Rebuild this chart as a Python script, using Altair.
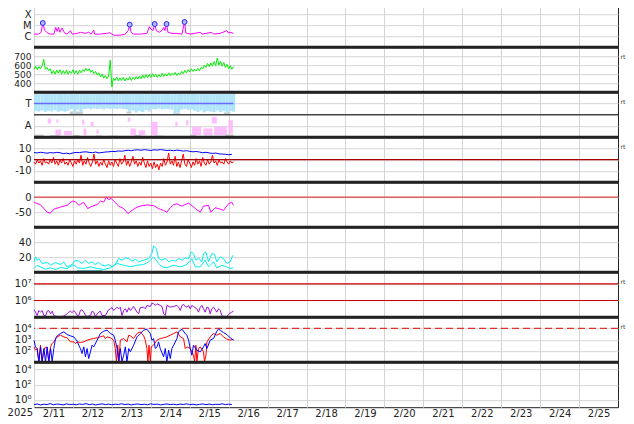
import altair as alt
import pandas as pd

# ---------------- data (hours since 2025-02-11 00:00) ----------------
# Panel 1: X-ray flux (units of 1e-6 W/m^2)
XRAY_H = [0, 3, 4.4, 5.4, 6.5, 8.1, 10.2, 12.2, 13.4, 14.3, 15.1, 15.9, 17.3, 18.8, 20.4, 22.5, 23.5, 26.6, 28.6, 31.7,
          33.7, 35.2, 36.8, 37.4, 40.9, 44.6, 46.7, 49.1, 53.2, 56.3, 58.0, 59.0, 59.8, 61.4, 65.5, 69.6, 71.1, 72.1, 73.3, 74.4,
          75.4, 77.4, 79.1, 79.9, 80.7, 81.7, 82.6, 85.0, 88.1, 91.2, 92.8, 93.6, 96.3, 102.5, 103.5, 109.6, 110.7, 114.8, 118.9, 119.9,
          120.9, 123.0]
XRAY_V = [1.5, 1.5, 2.2, 15.6, 3.5, 2.0, 1.5, 1.5, 6.2, 2.7, 6.2, 2.2, 5.4, 1.9, 1.5, 3.1, 1.5, 1.75, 2.2, 1.75,
          2.2, 1.5, 3.5, 1.5, 1.5, 1.75, 2.0, 1.2, 1.2, 1.5, 3.1, 11, 2.2, 1.5, 1.5, 1.75, 7.2, 4.4, 3.1, 12.6,
          3.1, 2.2, 3.5, 6.2, 3.1, 12.6, 2.2, 1.75, 1.75, 1.5, 19.2, 1.9, 1.5, 2.2, 1.5, 2.2, 1.5, 1.75, 3.1, 1.9,
          2.2, 1.75]
FLARE_H = [5.4, 59.0, 74.4, 81.7, 92.8]
FLARE_V = [15.6, 11, 12.6, 12.6, 19.2]

# Panel 2: solar wind speed, hourly
SPEED = [555, 590, 550, 585, 560, 595, 665, 555, 575, 540, 560, 505, 540, 500, 545, 510, 550, 500, 540, 505,
         545, 500, 535, 510, 550, 505, 540, 500, 545, 515, 550, 530, 565, 535, 560, 520, 545, 505, 530, 490,
         515, 470, 500, 455, 485, 450, 480, 655, 360, 455, 430, 470, 425, 460, 430, 465, 425, 460, 435, 470,
         430, 465, 440, 475, 445, 480, 450, 490, 455, 495, 460, 500, 465, 505, 470, 500, 465, 495, 470, 510,
         475, 505, 480, 515, 485, 510, 490, 520, 485, 515, 495, 530, 505, 545, 515, 550, 525, 560, 530, 555,
         535, 565, 540, 575, 560, 600, 575, 620, 585, 625, 590, 640, 595, 680, 600, 645, 590, 630, 575, 610,
         560, 595, 555, 585]

# Panel 3: sector (T/A), 2-hourly band of toward points
BAND_LOW = [210, 205, 214, 203, 212, 206, 215, 204, 210, 203, 212, 225, 192, 220, 198, 226, 229, 224, 230, 226,
            229, 222, 230, 227, 229, 224, 230, 226, 222, 205, 214, 198, 210, 202, 216, 206, 226, 222, 229, 221,
            227, 224, 220, 190, 196, 221, 226, 219, 224, 212, 203, 214, 198, 210, 205, 200, 214, 202, 208, 196,
            210, 204]
BAND_TOP = 345
SECTOR_LINE_H = [0, 123]
SECTOR_LINE_V = [270, 270]
PINK = [(8.5, 10.6, 109, 149), (13.8, 15.1, 115, 141), (13.2, 16.7, 16, 61), (18.4, 23.5, 16, 51),
        (29.6, 31.0, 100, 141), (30.5, 32.3, 16, 70), (34.8, 36.8, 88, 123), (38.5, 39.9, 29, 61),
        (57.7, 59.4, 123, 157), (59.4, 63.0, 16, 69), (64.5, 68.6, 16, 55), (72.1, 76.2, 16, 123),
        (87.1, 88.5, 88, 123), (93.8, 95.3, 96, 136), (97.3, 103.0, 16, 83), (104.5, 110.0, 16, 70),
        (111.0, 118.9, 16, 83), (109.6, 112.7, 109, 163), (119.9, 122.6, 29, 136)]
GRAY = [(0, 4, 344, 356), (45, 50, 342, 356), (55, 65, 342, 354), (88, 102, 342, 356), (112, 120, 342, 354),
        (22, 30, 185, 205), (57, 60, 190, 205), (86, 90, 180, 192), (117, 121, 185, 198),
        (0, 6, 4, 20), (10, 16, 4, 16), (24, 28, 4, 18), (38, 42, 4, 14), (46, 52, 4, 12), (62, 66, 4, 18),
        (74, 80, 4, 14), (96, 100, 4, 20), (106, 110, 4, 12), (118, 123, 4, 22)]

# Panel 4: Bt (2-hourly) and Bz (hourly)
BT = [6.4, 6.0, 6.6, 6.2, 5.8, 6.3, 6.0, 6.5, 6.2, 5.4, 5.8, 5.2, 6.0, 6.5, 6.3, 6.8, 7.0, 6.5, 6.2, 6.8,
      6.0, 6.4, 6.8, 7.0, 7.4, 7.2, 7.8, 7.5, 8.0, 8.4, 8.0, 8.6, 8.8, 8.4, 8.9, 8.6, 8.2, 8.8, 8.5, 9.0,
      8.6, 8.2, 8.4, 8.0, 8.5, 8.2, 7.6, 8.0, 7.4, 7.0, 7.3, 6.8, 6.2, 6.6, 6.0, 5.6, 5.9, 5.2, 5.0, 4.8,
      4.4, 4.8]
BZ = [-2, -4, 0, -3, -1, -5, 1, -3, -2, -4, 0,
      -3, 2, -4, -1, -5, 0, -3, 1, -4, -2,
      -5, 0, -3, -6, -1, -4, 0, -3, 4, -5,
      -1, -4, 2, -3, -6, -2, 5, -4, -1, -6,
      -2, -5, 0, -4, -7, -1, -5, -2, -6, 0,
      -3, -6, 1, -4, -2, 4, -5, -1, -6, -2,
      3, -4, -1, -6, -2, -5, 2, -3, -7, -1,
      -6, -3, -8, -2, -7, -4, -9, -3, -6, 1,
      -5, -2, 6, -4, -1, -5, 3, -6, -2, -7,
      -1, 5, -4, -6, 0, -3, -7, -2, -5, 1,
      -4, -1, -6, 2, -3, -5, 0, -4, -2, 4,
      -3, -1, -5, 0, -3, -2, -4, 1, -2, -4, -1, -3, -2]

# Panel 5: Dst
DST_H = [0, 4.0, 8.1, 10.2, 12.2, 16.3, 20.4, 23.5, 25.5, 27.6, 30.7, 33.1, 35.8, 38.9, 40.9, 43.0, 44.6, 46.1, 47.5, 50.2,
         52.2, 55.3, 57.9, 60.4, 63.5, 66.6, 69.6, 73.7, 76.8, 79.9, 81.9, 84.0, 86.1, 88.1, 91.2, 93.2, 95.3, 97.3, 100.4, 102.5,
         104.5, 107.6, 109.0, 111.7, 114.8, 116.8, 119.9, 121.9, 123.0]
DST_V = [-17, -25, -50, -53, -40, -33, -27, -13, -15, -27, -17, -38, -30, -25, -13, -16, 0, -8, -4, -18,
         -30, -38, -55, -44, -33, -28, -26, -28, -38, -44, -50, -35, -25, -22, -30, -24, -20, -28, -42, -50,
         -30, -27, -50, -35, -40, -44, -22, -17, -27]

# Panel 6: density (two traces) + short teal trace
DEN1_H = [0, 0.9, 1.9, 3.0, 5.0, 8.1, 10.2, 13.2, 16.3, 18.4, 20.4, 23.5, 25.5, 27.6, 29.6, 31.7, 33.7, 35.8, 37.8, 39.9,
          41.9, 44.0, 46.0, 48.1, 50.1, 52.2, 54.2, 56.3, 58.4, 60.4, 62.5, 64.5, 67.6, 70.7, 72.7, 73.7, 75.4, 76.8, 78.9, 80.9,
          83.0, 85.0, 87.1, 89.1, 91.2, 93.2, 95.3, 96.9, 98.3, 99.8, 101.4, 103.5, 104.5, 105.9, 107.6, 109.6, 111.3, 112.7, 114.8, 116.8,
          118.9, 120.9, 122.6]
DEN1_V = [13.8, 20.4, 16, 18.2, 11.6, 12.9, 9.3, 12.9, 10.2, 13.8, 7.1, 10.2, 16, 14.7, 11.6, 16, 11.6, 13.8, 10.2, 12.9,
          9.3, 8.4, 10.2, 7.1, 10.2, 18.2, 16, 19.1, 18.2, 14.7, 17.3, 13.8, 16, 18.2, 24.9, 35.1, 31.6, 18.2, 16, 18.2,
          13.8, 16, 14.7, 18.2, 16, 19.1, 18.2, 27.1, 24.9, 16, 19.1, 13.8, 24.9, 27.1, 13.8, 24.9, 23.6, 13.8, 20.4, 18.2,
          11.6, 13.8, 22.7]
DEN2_H = [0, 1.9, 4.0, 7.1, 10.2, 13.2, 16.3, 20.4, 24.5, 26.6, 30.7, 34.8, 38.9, 43.0, 47.1, 51.2, 55.3, 59.4, 63.5, 67.6,
          70.7, 73.7, 76.8, 78.9, 81.9, 86.1, 90.2, 94.2, 97.3, 99.4, 102.5, 105.5, 107.6, 110.7, 112.7, 115.8, 118.9, 120.9, 123.0]
DEN2_V = [4.9, 9.3, 7.1, 4.0, 5.8, 3.6, 6.2, 4.9, 10.2, 5.8, 4.9, 7.1, 4.9, 3.6, 5.8, 11.6, 9.3, 7.1, 9.3, 10.2,
          13.8, 20.4, 11.6, 7.1, 5.8, 9.3, 7.1, 10.2, 18.2, 7.1, 7.1, 16, 7.1, 13.8, 5.8, 9.3, 7.1, 4.9, 5.8]
TEAL_H = [26.6, 42.0]
TEAL_V = [1.5, 1.5]

# Panel 7: electron flux
ELEC_H = [0, 0.9, 1.9, 3.0, 4.0, 5.0, 6.1, 7.1, 8.1, 9.1, 10.2, 11.2, 12.2, 13.2, 14.3, 16.3, 18.4, 20.4, 21.4, 22.5,
          23.5, 24.5, 25.5, 26.6, 27.6, 28.6, 29.6, 30.7, 31.7, 32.7, 34.8, 35.8, 36.8, 37.8, 39.9, 40.9, 41.9, 44.0, 46.0, 47.1,
          48.1, 49.1, 51.2, 52.2, 53.2, 54.2, 55.3, 56.3, 57.3, 58.4, 59.4, 60.4, 61.4, 63.5, 64.5, 65.5, 67.6, 68.6, 69.6, 71.7,
          72.7, 73.7, 74.8, 75.8, 77.8, 78.9, 79.9, 80.9, 81.9, 84.0, 86.1, 88.1, 89.1, 90.2, 91.2, 92.2, 93.2, 94.2, 95.3, 96.3,
          97.3, 98.3, 100.4, 101.4, 102.5, 103.5, 104.5, 105.5, 106.6, 107.6, 108.6, 109.6, 110.7, 111.7, 112.7, 113.7, 114.8, 115.8, 116.8, 118.9,
          119.9, 120.9, 121.9, 123.0]
ELEC_V = [2.8e5, 2.0e5, 1.27e5, 2.5e5, 2.0e5, 2.5e5, 1.27e5, 1.16e5, 2.3e5, 2.5e5, 1.6e5, 2.3e5, 1.27e5, 1.16e5, 1.11e5, 1.11e5, 1.16e5, 1.6e5, 2.0e5, 2.3e5,
          1.85e5, 2.5e5, 2.0e5, 1.27e5, 1.27e5, 2.5e5, 2.8e5, 2.0e5, 1.27e5, 1.11e5, 1.27e5, 2.3e5, 2.0e5, 1.11e5, 2.0e5, 2.3e5, 1.27e5, 1.27e5, 2.8e5, 3.2e5,
          3.7e5, 2.5e5, 4.0e5, 3.2e5, 4.0e5, 1.27e5, 2.5e5, 3.2e5, 2.0e5, 3.7e5, 2.5e5, 3.2e5, 4.4e5, 2.0e5, 1.6e5, 3.7e5, 4.0e5, 3.2e5, 5.06e5, 4.4e5,
          7.0e5, 6.4e5, 5.1e5, 6.4e5, 5.1e5, 4.4e5, 1.6e5, 1.27e5, 5.1e5, 4.0e5, 4.4e5, 5.1e5, 4.0e5, 2.5e5, 5.1e5, 5.8e5, 4.4e5, 4.0e5, 5.1e5, 3.2e5,
          5.1e5, 4.4e5, 3.2e5, 2.0e5, 4.0e5, 5.1e5, 3.2e5, 2.0e5, 4.0e5, 3.7e5, 1.6e5, 3.2e5, 4.0e5, 2.8e5, 2.0e5, 3.2e5, 2.5e5, 1.27e5, 1.11e5, 1.11e5,
          1.46e5, 1.76e5, 2.0e5, 2.3e5]

# Panel 8: two flux traces
PB_H = [0, 0.9, 1.9, 3.0, 4.0, 5.0, 6.1, 7.1, 8.1, 9.1, 10.2, 11.2, 12.2, 12.6, 13.2, 14.3, 16.3, 18.4, 20.4, 22.5,
        24.5, 26.6, 27.6, 28.6, 29.6, 30.7, 31.7, 32.7, 33.7, 34.8, 35.8, 36.8, 38.9, 40.9, 43.0, 45.0, 47.1, 49.1, 50.1, 51.2,
        52.2, 53.2, 54.2, 55.3, 56.3, 57.3, 58.4, 59.4, 61.4, 63.5, 65.5, 67.6, 69.6, 71.7, 72.7, 73.7, 74.8, 75.8, 76.8, 77.8,
        79.9, 80.9, 81.9, 83.0, 84.0, 85.0, 86.1, 88.1, 89.1, 91.2, 93.2, 94.2, 95.3, 96.3, 97.3, 98.3, 100.4, 102.5, 104.5, 105.5,
        106.6, 108.6, 110.7, 112.7, 113.7, 114.8, 116.8, 118.9, 120.9, 123.0]
PB_V = [900, 231, 164, 11, 231, 11, 164, 11, 231, 11, 164, 11, 164, 325, 1270, 2190, 3530, 5000, 2880, 2190,
        1790, 740, 325, 164, 59, 231, 30, 164, 21, 83, 325, 231, 900, 3530, 5700, 7000, 3530, 2510, 900, 164,
        11, 164, 11, 42, 231, 11, 164, 83, 325, 1790, 3530, 7000, 8600, 3530, 900, 1270, 164, 231, 640, 164,
        30, 164, 11, 117, 21, 164, 325, 1270, 5000, 8600, 3530, 2510, 900, 164, 42, 325, 117, 83, 231, 457,
        164, 900, 1270, 5700, 8600, 7000, 4340, 2880, 1460, 900]
PR_H = [0, 0.9, 1.9, 3.0, 4.0, 5.0, 6.1, 7.1, 8.1, 9.1, 10.2, 11.2, 12.2, 14.3, 16.3, 18.4, 20.4, 22.5, 24.5, 25.5,
        26.6, 28.6, 30.7, 32.7, 34.8, 36.8, 38.9, 40.9, 43.0, 44.0, 45.0, 47.1, 49.1, 50.1, 50.8, 51.6, 52.4, 53.2, 55.3, 57.3,
        58.4, 59.4, 61.4, 63.5, 65.5, 67.6, 68.6, 69.6, 70.2, 70.9, 71.7, 72.3, 73.7, 75.8, 77.8, 79.9, 81.9, 84.0, 86.1, 88.1,
        90.2, 92.2, 93.2, 94.2, 96.3, 98.3, 99.0, 99.8, 100.4, 101.4, 102.5, 104.5, 105.1, 106.0, 106.6, 108.6, 110.7, 112.7, 114.8, 116.8,
        118.9, 120.9, 123.0]
PR_V = [231, 117, 164, 11, 325, 11, 117, 231, 164, 11, 231, 457, 640, 1790, 2510, 1790, 1460, 640, 640, 457,
        640, 560, 640, 900, 1110, 1270, 1460, 1790, 2190, 1270, 1790, 1460, 900, 164, 11, 325, 11, 900, 1270, 640,
        2510, 2190, 1270, 3530, 5000, 2190, 900, 164, 11, 325, 11, 231, 325, 900, 1270, 1460, 1790, 2510, 3530, 5000,
        1790, 1270, 164, 231, 164, 42, 11, 325, 11, 164, 231, 83, 11, 42, 640, 1790, 3530, 2510, 3530, 1790,
        1110, 900, 1110]

# Panel 9: 2-hourly
P9 = [0.22, 0.27, 0.2, 0.25, 0.23, 0.3, 0.21, 0.26, 0.24, 0.2, 0.28, 0.22, 0.25, 0.21, 0.27, 0.23, 0.3, 0.22, 0.26, 0.2,
      0.24, 0.28, 0.22, 0.26, 0.21, 0.25, 0.23, 0.29, 0.22, 0.26, 0.2, 0.24, 0.27, 0.22, 0.25, 0.21, 0.28, 0.23, 0.26, 0.2,
      0.24, 0.27, 0.22, 0.25, 0.21, 0.26, 0.23, 0.28, 0.22, 0.25, 0.2, 0.24, 0.27, 0.22, 0.26, 0.21, 0.25, 0.23, 0.28, 0.22,
      0.25, 0.23]

# ---------------- layout / styles ----------------
W = 584
H = 45
H1 = 43.8
FONT = "DejaVu Sans"
INK = "#222222"
GRID = "#d4d4d4"
DAYS = list(range(0, 360, 24))       # day boundaries 2/11 .. 2/25 (2/26 is the right frame)
ONE = pd.DataFrame({"k": [0]})
SUP = "'10' + substring('⁰¹²³⁴⁵⁶⁷⁸⁹', round(log(datum.value) / LN10), round(log(datum.value) / LN10) + 1)"


def xenc(field="h", last=False):
    common = dict(values=DAYS, grid=True, ticks=False, tickSize=0, domain=False, title=None)
    if last:
        ax = alt.Axis(labels=True,
                      labelExpr="'2/' + (11 + datum.value / 24)",
                      labelOffset=19.5, labelFlush=False, labelOverlap=False, labelPadding=1, **common)
    else:
        ax = alt.Axis(labels=False, **common)
    return alt.X(field, type="quantitative", scale=alt.Scale(domain=[0, 360], nice=False, zero=False), axis=ax)


def yspec(domain, values, expr, log=False, fsize=10):
    sc = alt.Scale(type="log" if log else "linear", domain=domain, nice=False, zero=False, clamp=True)
    ax = alt.Axis(values=values, labelExpr=expr, grid=True, ticks=False, tickSize=0, domain=False,
                  title=None, labelPadding=3, labelOverlap=False, labelFlush=False, labelBound=False,
                  labelFontSize=fsize)

    def field(f):
        return alt.Y(f, type="quantitative", scale=sc, axis=ax)

    def datum(v):
        return alt.YDatum(v, type="quantitative", scale=sc, axis=ax)

    return field, datum


def top_rule():
    return alt.Chart(ONE).mark_rule(color=INK, strokeWidth=3).encode(y=alt.value(0))


def rt_text():
    return alt.Chart(ONE).mark_text(text="rt", font=FONT, fontSize=6, color="#333333",
                                    align="center", baseline="middle").encode(x=alt.value(W + 5), y=alt.value(10))


def line(df, color, yf, width=1, last=False, **kw):
    return alt.Chart(df).mark_line(color=color, strokeWidth=width, interpolate="linear", **kw).encode(
        x=xenc("h", last), y=yf("v"))


def hline(yd, value, color, width=1, dash=None):
    kw = dict(color=color, strokeWidth=width)
    if dash:
        kw["strokeDash"] = dash
    return alt.Chart(ONE).mark_rule(**kw).encode(y=yd(value))


def segs(rows):
    return pd.DataFrame({"h": [r[0] for r in rows], "h1": [r[1] for r in rows],
                         "lo": [r[2] for r in rows], "hi": [r[3] for r in rows]})


# Panel 1: X-ray
y1, y1d = yspec([0.1, 1000], [1, 10, 100], "datum.value < 3 ? 'C' : (datum.value < 30 ? 'M' : 'X')", log=True)
p1 = alt.layer(
    line(pd.DataFrame({"h": XRAY_H, "v": XRAY_V}), "#ff00ff", y1),
    alt.Chart(pd.DataFrame({"h": FLARE_H, "v": FLARE_V})).mark_point(
        shape="circle", filled=True, fill="#b8b8ff", stroke="#2020ff", strokeWidth=1, size=24, opacity=1
    ).encode(x=xenc(), y=y1("v")),
    top_rule(),
).properties(width=W, height=H1)

# Panel 2: speed
y2, y2d = yspec([300, 800], [400, 500, 600, 700], "'' + datum.value", fsize=9)
p2 = alt.layer(
    line(pd.DataFrame({"h": list(range(len(SPEED))), "v": SPEED}), "#00ee00", y2),
    top_rule(), rt_text(),
).properties(width=W, height=H)

# Panel 3: sector
y3, y3d = yspec([0, 360], [90, 270], "datum.value < 180 ? 'A' : 'T'")
band = pd.DataFrame({"h": [2 * i for i in range(len(BAND_LOW))],
                     "h1": [2 * i + 2 for i in range(len(BAND_LOW))],
                     "lo": BAND_LOW, "hi": [BAND_TOP] * len(BAND_LOW)})


def rects(df, color, opacity=1.0):
    return alt.Chart(df).mark_rect(color=color, opacity=opacity).encode(
        x=xenc("h"), x2=alt.X2("h1"), y=y3("hi"), y2=alt.Y2("lo"))


p3 = alt.layer(
    rects(segs(GRAY), "#c8c8c8"),
    rects(band, "#b0e4fb"),
    rects(segs(PINK), "#ffb4ff", 0.85),
    line(pd.DataFrame({"h": SECTOR_LINE_H, "v": SECTOR_LINE_V}), "#6a6aff", y3, width=1.5),
    hline(y3d, 180, "#444444", 1.5),
    top_rule(), rt_text(),
).properties(width=W, height=H)

# Panel 4: Bt / Bz
y4, y4d = yspec([-20, 20], [-10, 0, 10], "'' + datum.value")
p4 = alt.layer(
    line(pd.DataFrame({"h": list(range(len(BZ))), "v": BZ}), "#ff0000", y4),
    line(pd.DataFrame({"h": [2 * i for i in range(len(BT))], "v": BT}), "#0000ff", y4),
    hline(y4d, 0, "#aa0000", 1.2),
    top_rule(), rt_text(),
).properties(width=W, height=H)

# Panel 5: Dst
y5, y5d = yspec([-100, 50], [-50, 0], "'' + datum.value")
p5 = alt.layer(
    hline(y5d, 0, "#dd4444", 1.2),
    line(pd.DataFrame({"h": DST_H, "v": DST_V}), "#ff00ff", y5),
    top_rule(),
).properties(width=W, height=H)

# Panel 6: density
y6, y6d = yspec([0, 60], [20, 40], "'' + datum.value")
p6 = alt.layer(
    line(pd.DataFrame({"h": TEAL_H, "v": TEAL_V}), "#20a8a8", y6, width=1.5),
    line(pd.DataFrame({"h": DEN2_H, "v": DEN2_V}), "#00f0f0", y6),
    line(pd.DataFrame({"h": DEN1_H, "v": DEN1_V}), "#00f0f0", y6),
    top_rule(),
).properties(width=W, height=H)

# Panel 7: electrons
y7, y7d = yspec([1e5, 5e7], [1e6, 1e7], SUP, log=True)
p7 = alt.layer(
    hline(y7d, 1e7, "#cc0000", 1.2),
    hline(y7d, 1e6, "#cc0000", 1.2),
    line(pd.DataFrame({"h": ELEC_H, "v": ELEC_V}), "#9a10d0", y7),
    top_rule(), rt_text(),
).properties(width=W, height=H)

# Panel 8: two fluxes
y8, y8d = yspec([10, 1e5], [100, 1000, 10000], SUP, log=True)
p8 = alt.layer(
    hline(y8d, 1e4, "#dd3333", 1.2, dash=[7, 4]),
    line(pd.DataFrame({"h": PR_H, "v": PR_V}), "#ff0000", y8),
    line(pd.DataFrame({"h": PB_H, "v": PB_V}), "#0000ff", y8),
    top_rule(), rt_text(),
).properties(width=W, height=H)

# Panel 9
y9, y9d = yspec([0.1, 1e5], [1, 100, 10000], SUP, log=True)
p9 = alt.layer(
    line(pd.DataFrame({"h": [2 * i for i in range(len(P9))], "v": P9}), "#0000ff", y9, last=True),
    top_rule(),
    alt.Chart(ONE).mark_text(text="2025", font=FONT, fontSize=10, color=INK, align="right",
                             baseline="top").encode(x=alt.value(-1), y=alt.value(H + 1)),
).properties(width=W, height=H)

chart = alt.vconcat(p1, p2, p3, p4, p5, p6, p7, p8, p9, spacing=0, bounds="flush").configure_view(
    stroke=INK, strokeWidth=1
).configure_axis(
    labelFont=FONT, labelColor=INK, gridColor=GRID, gridWidth=1
).properties(
    padding={"left": -1, "top": -6.8, "right": 0, "bottom": -2}, background="white"
)

chart.save("out.html", embed_options={"renderer": "svg", "actions": False})
